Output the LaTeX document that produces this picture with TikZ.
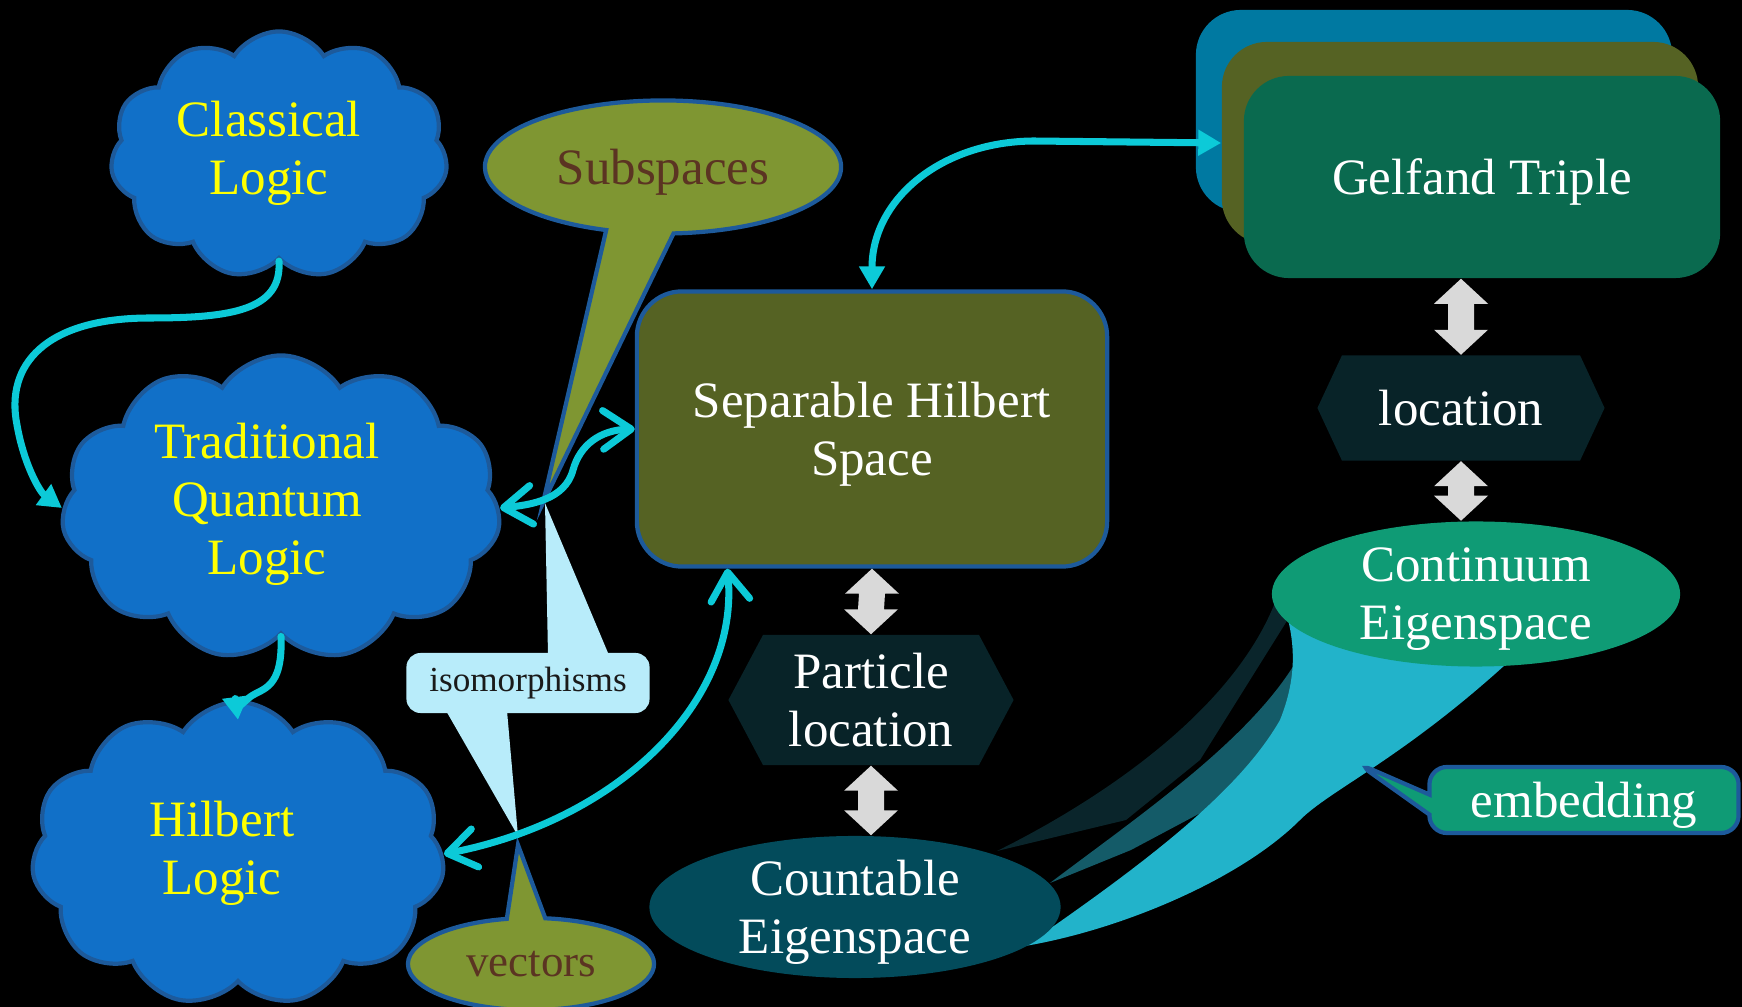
\documentclass[tikz,border=0pt]{standalone}
\usepackage{fontspec}
\setmainfont{Liberation Serif}
\usepackage{tikz}
\usetikzlibrary{shapes.symbols,shapes.callouts,shapes.geometric,arrows.meta,calc}
\definecolor{cloudblue}{HTML}{1170C8}
\definecolor{edgeblue}{HTML}{1D5A9B}
\definecolor{logicyellow}{HTML}{FFFF00}
\definecolor{linkcyan}{HTML}{0CCAD8}
\definecolor{olivelight}{HTML}{7F9632}
\definecolor{olivedark}{HTML}{556223}
\definecolor{browntext}{HTML}{5B3422}
\definecolor{hexdark}{HTML}{082328}
\definecolor{countfill}{HTML}{034B5B}
\definecolor{gelfblue}{HTML}{0079A1}
\definecolor{gelfgreen}{HTML}{0A6A4F}
\definecolor{contfill}{HTML}{0F9B75}
\definecolor{embedlight}{HTML}{22B3CA}
\definecolor{embedmid}{HTML}{145B68}
\definecolor{embeddark}{HTML}{0A252B}
\definecolor{isofill}{HTML}{B8ECFA}
\definecolor{isotext}{HTML}{1A1A1A}
\definecolor{arrowgray}{HTML}{D9D9D9}
\tikzset{
  logiccloud/.style={cloud, cloud puffs=11, cloud puff arc=115, cloud ignores aspect, draw=edgeblue, line width=1.2pt,
    fill=cloudblue, inner sep=0pt},
  cloudtext/.style={text=logicyellow, align=center, inner sep=0pt},
  sepbox/.style={rectangle, rounded corners=0.45cm, draw=edgeblue, line width=1.2pt, fill=olivedark,
    text=white, align=center, text depth=0pt},
  hexbox/.style={signal, signal to=east and west, fill=hexdark, text=white, align=center, inner sep=0pt},
  eigen/.style={ellipse, text=white, align=center, inner sep=0pt, text depth=0pt},
  gelfcard/.style={rectangle, rounded corners=0.45cm, minimum width=4.76cm, minimum height=2.02cm, text depth=0pt},
  bubble/.style={ellipse callout, fill=olivelight, draw=edgeblue, line width=1.2pt, text=browntext, inner sep=0pt, text depth=0pt},
  link/.style={draw=linkcyan, line width=2pt, line cap=round},
  dblchev/.style={{Straight Barb[length=8pt,width=11pt,round]}-{Straight Barb[length=8pt,width=11pt,round]}},
  tri/.style={-{Triangle[length=6.5pt,width=7pt]}}
}
\newcommand\grayarrow[2]{\fill[arrowgray] (#1) -- ++(27,25) -- ++(-14,0) -- ($(#2)+(13,-25)$) -- ++(14,0) -- (#2)
  -- ++(-27,-25) -- ++(14,0) -- ($(#1)+(-13,25)$) -- ++(-14,0) -- cycle;}

\begin{document}
\begin{tikzpicture}[x=0.01cm,y=-0.01cm,font=\fontsize{14.5}{16.5}\selectfont]
\fill[black] (0,0) rectangle (1742,1007);
\useasboundingbox (0,0) rectangle (1742,1007);

\fill[embeddark] (997,851) .. controls (1080,810) and (1230,720) .. (1276,600) -- (1300,600) -- (1200,760) -- (1126,820) -- cycle;
\fill[embedmid] (1050,883) .. controls (1140,815) and (1250,740) .. (1297,660) -- (1300,760) -- (1131,850) -- cycle;
\fill[embedlight] (1025,946) .. controls (1150,860) and (1240,790) .. (1280,720) .. controls (1300,670) and (1295,630) .. (1276,583)
  -- (1505,665) .. controls (1400,760) and (1330,790) .. (1300,820) .. controls (1240,880) and (1120,930) .. cycle;

\node[gelfcard, fill=gelfblue] (gelfB) at (1434,111) {};
\node[gelfcard, fill=olivedark] (gelfM) at (1460,143) {};
\node[gelfcard, fill=gelfgreen, text=white] (gelf) at (1482,177) {Gelfand Triple};

\node[logiccloud, minimum width=3.37cm, minimum height=2.47cm] (clas) at (279,155) {};
\node[logiccloud, minimum width=4.39cm, minimum height=3.05cm] (trad) at (281,508) {};
\node[logiccloud, minimum width=4.13cm, minimum height=3.04cm] (hilb) at (238,854) {};
\node[cloudtext] at ([xshift=-0.1cm,yshift=0.015cm]clas.center) {Classical\\Logic};
\node[cloudtext] at ([xshift=-0.14cm,yshift=0.035cm]trad.center) {Traditional\\Quantum\\Logic};
\node[cloudtext] at ([xshift=-0.16cm,yshift=0.005cm]hilb.center) {Hilbert\\Logic};

\node[sepbox, minimum width=4.7cm, minimum height=2.75cm] (sep) at (872,429) {Separable Hilbert\\Space};
\node[hexbox, signal pointer angle=124, minimum width=2.85cm, minimum height=1.3cm] (part) at (871,700) {Particle\\location};
\node[hexbox, signal pointer angle=130, minimum width=2.87cm, minimum height=1.05cm] (loc) at (1461,408) {location};
\node[eigen, fill=countfill, minimum width=4.11cm, minimum height=1.42cm] (count) at (855,907) {Countable\\Eigenspace};
\node[eigen, fill=contfill, minimum width=4.08cm, minimum height=1.45cm] (cont) at (1476,594) {Continuum\\Eigenspace};

\coordinate (subtip) at (543,503);
\coordinate (vectip) at (518,845);
\coordinate (isotop) at (545,503);
\coordinate (isobot) at (518,836);
\coordinate (embtip) at (1357,763);
\node[bubble, minimum width=3.56cm, minimum height=1.33cm, callout absolute pointer=(subtip), callout pointer arc=22] (subs) at (663,167) {Subspaces};
\node[bubble, minimum width=2.46cm, minimum height=0.92cm, callout absolute pointer=(vectip), callout pointer arc=18,
  font=\fontsize{12.8}{15}\selectfont] (vec) at (531,964) {vectors};
\node[rectangle, rounded corners=4pt, fill=isofill, text=isotext, minimum width=2.43cm, minimum height=0.6cm,
  font=\fontsize{10}{12}\selectfont] (iso) at (528,683) {isomorphisms};
\fill[isofill] ($(iso.north)+(20,3)$) -- (isotop) -- ($(iso.north)+(81,3)$) -- cycle;
\fill[isofill] ($(iso.south)+(-82,-3)$) -- (isobot) -- ($(iso.south)+(-21,-3)$) -- cycle;
\node[rectangle callout, rounded corners=5pt, fill=contfill, draw=edgeblue, line width=1.2pt, text=white, text depth=0pt,
  minimum width=3.09cm, minimum height=0.66cm, callout absolute pointer=(embtip), callout pointer width=0.2cm] (embed) at (1584,800) {embedding};

\coordinate (gt) at (loc.north |- gelf.south);
\coordinate (cb) at (loc.south |- cont.north);
\coordinate (pb) at (part.south |- count.north);
\grayarrow{sep.south}{part.north}
\grayarrow{part.south}{pb}
\grayarrow{gt}{loc.north}
\grayarrow{loc.south}{cb}

\draw[link, tri] (clas.south) .. controls (282,310) and (232,318) .. (150,318) .. controls (45,318) and (5,365) .. (17,425)
  .. controls (24,465) and (40,492) .. (trad.west);
\draw[link, tri] (trad.south) .. controls (283,690) and (262,688) .. (250,697) .. controls (240,705) and (237,712) .. ([yshift=-0.2cm]hilb.north);
\draw[link, dblchev] (trad.east) .. controls (530,505) and (565,500) .. (573,470) .. controls (580,445) and (600,430) .. (sep.west);
\draw[link, dblchev] (hilb.east) .. controls (620,820) and (740,700) .. (sep.224);
\draw[link, {Triangle[length=6.5pt,width=7pt]}-{Triangle[length=6.5pt,width=7pt]}] (sep.north) .. controls (872,200) and (940,142) .. (1033,141) -- (gelfM.west);
\end{tikzpicture}
\end{document}
